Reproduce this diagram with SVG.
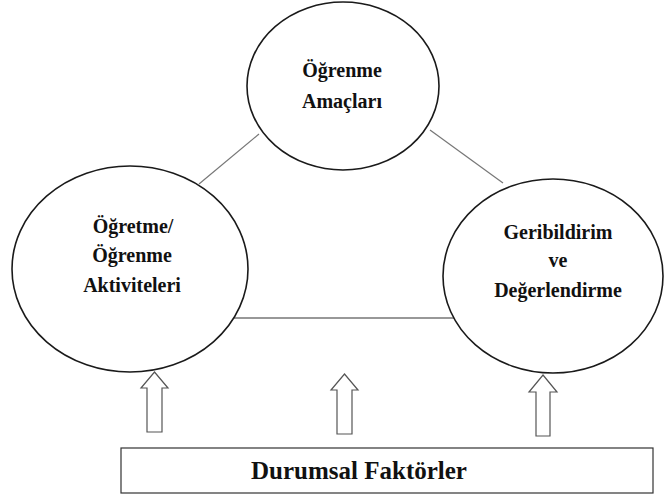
<svg xmlns="http://www.w3.org/2000/svg" width="664" height="499" viewBox="0 0 664 499">
<style>
.node{fill:#fff;stroke:#1a1a1a;stroke-width:1.6}
.lbl{font-weight:bold;font-size:20px;fill:#111;text-anchor:middle}
.conn{stroke:#777;stroke-width:1.2;fill:none}
.arrow{fill:#fff;stroke:#555;stroke-width:1.2}
</style>
<rect width="664" height="499" fill="#fff"/>
<g id="connectors">
<line class="conn" x1="199" y1="184" x2="259" y2="134"/>
<line class="conn" x1="430" y1="130" x2="503" y2="183"/>
<line x1="234" y1="318" x2="455" y2="318" stroke="#333" stroke-width="1.2"/>
<path class="arrow" d="M154.5,372 L168,388 L162,388 L162,432 L147,432 L147,388 L141,388 Z"/>
<path class="arrow" d="M344.5,374 L358,390 L352,390 L352,434 L337,434 L337,390 L331,390 Z"/>
<path class="arrow" d="M543,375 L557,392 L550,392 L550,436 L536,436 L536,392 L529,392 Z"/>
</g>
<g font-family="Liberation Serif, Times New Roman, DejaVu Serif, serif">
<g id="node-amaclar">
<ellipse class="node" cx="343" cy="86" rx="96" ry="84"/>
<text class="lbl" x="342" y="77">Öğrenme</text>
<text class="lbl" x="342" y="108">Amaçları</text>
</g>
<g id="node-aktiviteler">
<ellipse class="node" cx="130" cy="269" rx="118" ry="103"/>
<text class="lbl" x="133" y="233">Öğretme/</text>
<text class="lbl" x="132" y="262">Öğrenme</text>
<text class="lbl" x="132" y="292">Aktiviteleri</text>
</g>
<g id="node-degerlendirme">
<ellipse class="node" cx="553" cy="276" rx="110" ry="97"/>
<text class="lbl" x="558" y="239">Geribildirim</text>
<text class="lbl" x="558" y="267">ve</text>
<text class="lbl" x="558" y="297">Değerlendirme</text>
</g>
<g id="node-faktorler">
<rect x="121" y="448" width="532" height="45" fill="#fff" stroke="#333" stroke-width="1.2"/>
<text class="lbl" x="359" y="479" font-size="25" style="font-size:25px">Durumsal Faktörler</text>
</g>
</g>
</svg>
